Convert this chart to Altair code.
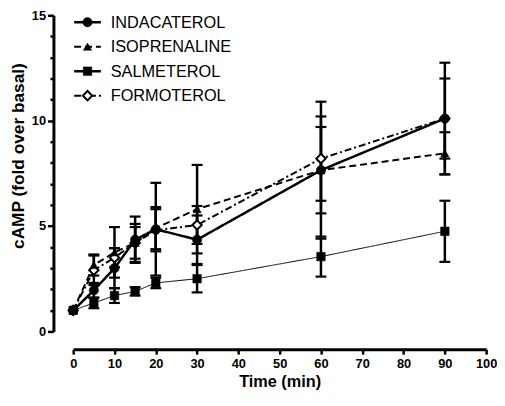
import altair as alt
import pandas as pd

times = [0, 5, 10, 15, 20, 30, 60, 90]

series_names = ["INDACATEROL", "ISOPRENALINE", "SALMETEROL", "FORMOTEROL"]

indacaterol = [1.0, 1.95, 3.0, 4.35, 4.85, 4.35, 7.65, 10.1]
indacaterol_err = [0, 0.35, 0.95, 1.1, 2.2, 1.15, 3.25, 2.65]

isoprenaline = [1.0, 3.15, 3.75, 4.2, 4.9, 5.8, 7.65, 8.45]
isoprenaline_err = [0, 0.5, 1.2, 0.75, 1.0, 2.1, 2.05, 1.0]

salmeterol = [1.0, 1.35, 1.7, 1.9, 2.3, 2.5, 3.55, 4.75]
salmeterol_err = [0, 0.25, 0.35, 0.2, 0.25, 0.65, 0.95, 1.45]

formoterol = [1.0, 2.9, 3.5, 4.2, 4.8, 5.05, 8.2, 10.1]
formoterol_err = [0, 0.7, 0.45, 0.9, 1.0, 0.9, 2.0, 1.9]

x_ticks = list(range(0, 101, 10))
y_ticks = list(range(0, 16))

values = [indacaterol, isoprenaline, salmeterol, formoterol]
errors = [indacaterol_err, isoprenaline_err, salmeterol_err, formoterol_err]

styles = {
    "INDACATEROL": dict(shape="circle", fill="black", dash=[1, 0], width=2.5, size=90),
    "ISOPRENALINE": dict(shape="triangle-up", fill="black", dash=[7, 4], width=2, size=70),
    "SALMETEROL": dict(shape="square", fill="black", dash=[1, 0], width=1, size=75),
    "FORMOTEROL": dict(shape="diamond", fill="white", dash=[7, 3, 2, 3], width=2, size=90),
}

FONT = "Liberation Sans"

xscale = alt.Scale(domain=[0, 100], nice=False, zero=False)
yscale = alt.Scale(domain=[0, 15], nice=False, zero=False)

xaxis = alt.Axis(
    values=x_ticks, title="Time (min)", offset=18, tickSize=5, tickWidth=2.5,
    domainWidth=3, labelFontSize=13, labelFontWeight="bold", labelFont=FONT,
    labelPadding=4, labelFlush=False, labelOverlap=False,
    titleFont=FONT, titleFontSize=16.5, titleFontWeight="bold", titlePadding=3,
)
yaxis = alt.Axis(
    values=y_ticks, title="cAMP (fold over basal)", offset=20,
    tickSize={"condition": {"test": "datum.value % 5 === 0", "value": 6}, "value": 3.5},
    tickWidth=2.5, domainWidth=3, labelFontSize=13, labelFontWeight="bold",
    labelFont=FONT, labelPadding=2, labelOverlap=False, labelFlush=False,
    labelExpr="datum.value % 5 === 0 ? datum.label : ''",
    titleFont=FONT, titleFontSize=17.5, titleFontWeight="bold", titlePadding=4,
    titleY=142,
)

err_layers, line_layers, point_layers, legend_layers = [], [], [], []
point_by_name = {}

for name, vals, errs in zip(series_names, values, errors):
    st = styles[name]
    df = pd.DataFrame({"t": times, "v": vals, "e": errs})
    df["lo"] = df["v"] - df["e"]
    df["hi"] = df["v"] + df["e"]
    base = alt.Chart(df)
    x = alt.X("t:Q", scale=xscale, axis=xaxis)
    err_df = base.transform_filter("datum.e > 0")
    err_layers.append(
        err_df.mark_rule(color="black", strokeWidth=2.5).encode(
            x=x, y=alt.Y("lo:Q", scale=yscale, axis=yaxis), y2="hi:Q"
        )
    )
    for col in ["lo", "hi"]:
        err_layers.append(
            err_df.mark_tick(orient="horizontal", size=11, thickness=2.2,
                             color="black", opacity=1).encode(
                x=x, y=alt.Y(f"{col}:Q", scale=yscale, axis=yaxis)
            )
        )
    line_layers.append(
        base.mark_line(color="black", strokeWidth=st["width"], strokeDash=st["dash"]).encode(
            x=x, y=alt.Y("v:Q", scale=yscale, axis=yaxis)
        )
    )
    point_by_name[name] = base.mark_point(
        shape=st["shape"], filled=True, fill=st["fill"], stroke="black",
        strokeWidth=2 if st["fill"] == "white" else 0.5,
        size=st["size"], opacity=1).encode(
        x=x, y=alt.Y("v:Q", scale=yscale, axis=yaxis)
    )

# open diamonds sit underneath the filled markers
for name in ["FORMOTEROL", "SALMETEROL", "ISOPRENALINE", "INDACATEROL"]:
    point_layers.append(point_by_name[name])

# Legend (top-left, inside plot)
for i, name in enumerate(series_names):
    st = styles[name]
    ldf = pd.DataFrame({"name": [name]})
    lb = alt.Chart(ldf)
    ry = 7 + 24.8 * i
    legend_layers.append(
        lb.mark_rule(color="black", strokeWidth=st["width"] if st["width"] > 1 else 2.5,
                     strokeDash=st["dash"]).encode(
            x=alt.value(1), x2=alt.value(28), y=alt.value(ry)
        )
    )
    legend_layers.append(
        lb.mark_point(shape=st["shape"], filled=True, fill=st["fill"], stroke="black",
                      strokeWidth=2 if st["fill"] == "white" else 0.5,
                      size=st["size"], opacity=1).encode(
            x=alt.value(14.5), y=alt.value(ry)
        )
    )
    legend_layers.append(
        lb.mark_text(align="left", baseline="middle", font=FONT, fontSize=16.5,
                     color="black").encode(
            x=alt.value(38), y=alt.value(ry + 0.5), text="name:N"
        )
    )

chart = alt.layer(*err_layers, *line_layers, *point_layers, *legend_layers).properties(
    width=418,
    height=320,
    padding={"left": 66, "top": 5, "right": 11, "bottom": 62},
    autosize=alt.AutoSizeParams(type="none"),
).configure_view(stroke=None).configure_axis(
    grid=False, domainColor="black", tickColor="black", labelColor="black", titleColor="black"
)

chart.save("out.html", embed_options={"renderer": "svg", "actions": False})
